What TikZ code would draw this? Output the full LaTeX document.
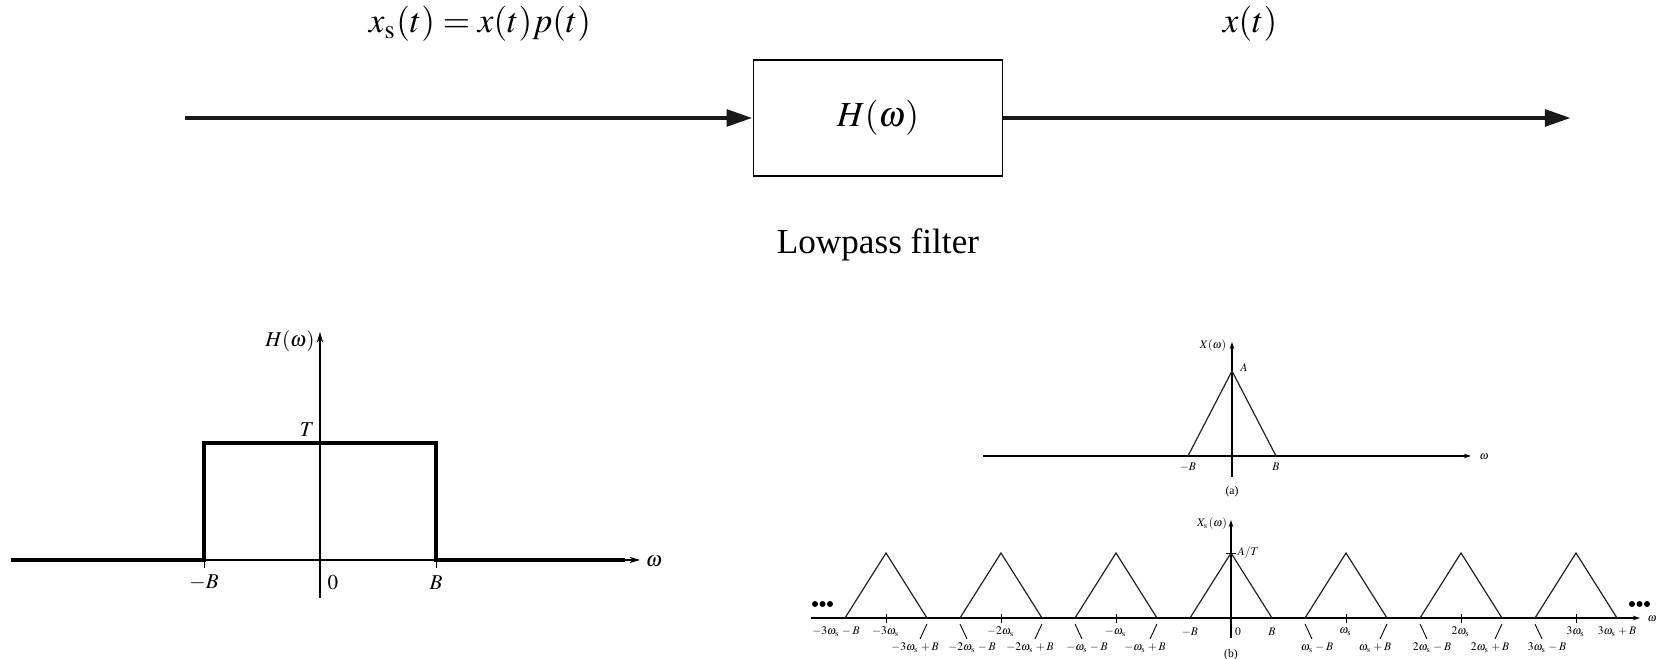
\documentclass[tikz,border=0pt]{standalone}
\usepackage{mathptmx}
\usepackage{fontspec}
\setmainfont{Liberation Serif}
\usetikzlibrary{arrows.meta}

\begin{document}
\begin{tikzpicture}[x=0.01cm,y=-0.01cm,>=Stealth]
\tikzset{
  sig/.style={-{Triangle[length=7.4pt,width=4.6pt]},line width=1.4pt,black!90},
  filt/.style={draw,line width=.45pt,minimum width=2.49cm,minimum height=1.16cm,inner sep=0pt,font=\fontsize{10}{12}\selectfont},
  big/.style={font=\fontsize{10}{12}\selectfont,inner sep=0pt},
  mid/.style={font=\fontsize{6}{7}\selectfont,inner sep=0pt},
  tiny/.style={font=\fontsize{3.3}{4}\selectfont,inner sep=0pt},
  axis/.style={-{Stealth[length=3pt,width=1.8pt]},line width=.3pt},
  saxis/.style={-{Stealth[length=2pt,width=1.3pt]},line width=.3pt},
  spec/.style={line width=.35pt,black!85},
  flat/.style={line width=.6pt,black!35},
  tickln/.style={line width=.25pt}
}
\useasboundingbox (0,0) rectangle (1659,659);

% block diagram
\node[filt] (lpf) at (878,118) {$H(\omega)$};
\coordinate (src) at (185,118);
\coordinate (snk) at (1571,118);
\draw[sig] (src) -- (lpf.west);
\draw[sig] (lpf.east) -- (snk);
\node[big] (xin) at (480,24) {$x_{\mathrm{s}}(t) = x(t)p(t)$};
\node[big] (xout) at (1250,24) {$x(t)$};
\node[big] (cap) at (878,245) {Lowpass filter};

% filter response
\begin{scope}[shift={(320,560)}]
  \draw[axis] (-309,0) -- (320,0);
  \draw[axis] (0,38) -- (0,-228);
  \draw[line width=.9pt] (-309,0) -- (-116,0) -- (-116,-117) -- (116,-117) -- (116,0) -- (305,0);
  \draw[tickln] (-116,0) -- (-116,8);
  \draw[tickln] (116,0) -- (116,8);
  \node[mid] at (-116,23) {$-B$};
  \node[mid] at (13,23) {$0$};
  \node[mid] at (116,23) {$B$};
  \node[mid] at (-30,-219) {$H(\omega)$};
  \node[mid] at (-13,-130) {$T$};
  \node[mid] at (334,1) {$\omega$};
\end{scope}

% (a) spectrum of x(t)
\begin{scope}[shift={(1232,456)}]
  \draw[flat] (-249,0) -- (-44,0);
  \draw[flat] (44,0) -- (228,0);
  \draw[saxis] (-249,0) -- (239,0);
  \draw[saxis] (0,21) -- (0,-114);
  \draw[spec] (-44,0) -- (0,-85) -- (44,0);
  \node[tiny] at (-19,-110) {$X(\omega)$};
  \node[tiny] at (12,-88) {$A$};
  \node[tiny] at (-44,11) {$-B$};
  \node[tiny] at (44,11) {$B$};
  \node[tiny] at (0,36) {(a)};
  \node[tiny] at (252,1) {$\omega$};
\end{scope}

% (b) spectrum of the sampled signal
\begin{scope}[shift={(1231,618)}]
  \draw[flat] (-420,0) -- (-386,0);
  \foreach \k in {-3,...,2}
    \draw[flat] (\k*115+41,0) -- (\k*115+74,0);
  \draw[flat] (386,0) -- (400,0);
  \draw[saxis] (-420,0) -- (409,0);
  \draw[saxis] (0,20) -- (0,-98);
  \foreach \k in {-3,...,3}
    \draw[spec] (\k*115-41,0) -- (\k*115,-65) -- (\k*115+41,0);
  \foreach \k in {-3,-2,-1,1,2,3}
    \draw[tickln] (\k*115,-4) -- (\k*115,5);
  \draw[tickln] (-5,-65) -- (5,-65);
  \node[tiny,anchor=west] at (6,-65) {$A/T$};
  \node[tiny] at (-19,-94) {$X_{\mathrm{s}}(\omega)$};
  \foreach \d in {-416,-408.5,-401,401,408.5,416}
    \fill (\d,-14) circle (3);
  \node[tiny] at (421,1) {$\omega$};
  % first row
  \node[tiny] at (-395,14) {$-3\omega_{\mathrm{s}}-B$};
  \foreach \k/\t in {-3/-3\omega_{\mathrm{s}},-2/-2\omega_{\mathrm{s}},-1/-\omega_{\mathrm{s}},1/\omega_{\mathrm{s}},2/2\omega_{\mathrm{s}},3/3\omega_{\mathrm{s}}}
    \node[tiny] at (\k*115,14) {$\t$};
  \node[tiny] at (-41,14) {$-B$};
  \node[tiny] at (7,14) {$0$};
  \node[tiny] at (41,14) {$B$};
  \node[tiny] at (386,14) {$3\omega_{\mathrm{s}}+B$};
  % slanted marks and second row
  \foreach \k/\t in {-3/-3\omega_{\mathrm{s}}+B,-2/-2\omega_{\mathrm{s}}+B,-1/-\omega_{\mathrm{s}}+B,1/\omega_{\mathrm{s}}+B,2/2\omega_{\mathrm{s}}+B}{
    \draw[tickln] (\k*115+41,6) -- (\k*115+34,21);
    \node[tiny] at (\k*115+29,30) {$\t$};
  }
  \foreach \k/\t in {-2/-2\omega_{\mathrm{s}}-B,-1/-\omega_{\mathrm{s}}-B,1/\omega_{\mathrm{s}}-B,2/2\omega_{\mathrm{s}}-B,3/3\omega_{\mathrm{s}}-B}{
    \draw[tickln] (\k*115-41,6) -- (\k*115-34,21);
    \node[tiny] at (\k*115-29,30) {$\t$};
  }
  \node[tiny] at (0,37) {(b)};
\end{scope}
\end{tikzpicture}
\end{document}
